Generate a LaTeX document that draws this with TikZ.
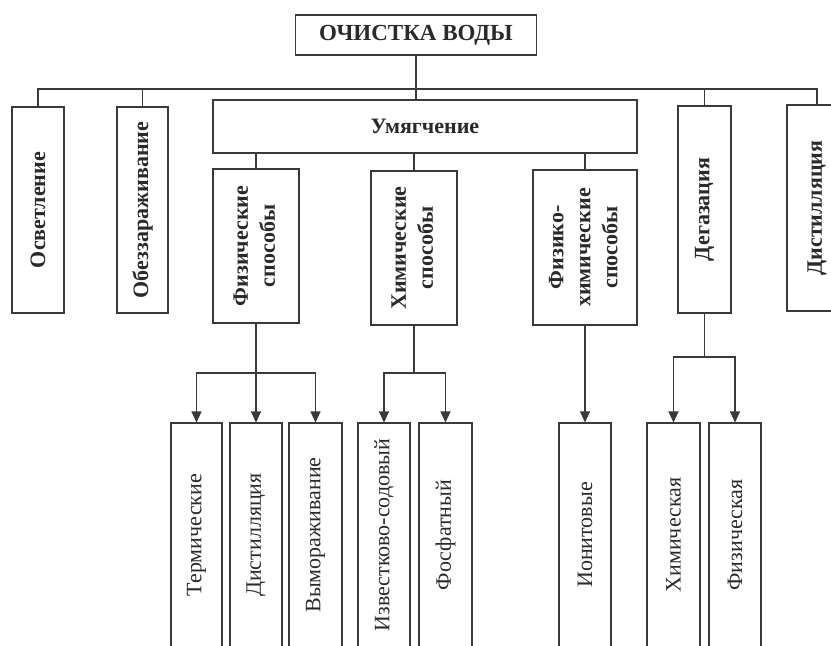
\documentclass[tikz,border=0pt]{standalone}
\usepackage{fontspec}
\setmainfont{Liberation Serif}
\usetikzlibrary{arrows.meta}
\definecolor{linec}{HTML}{3A3A3A}
\definecolor{textc}{HTML}{2A2A2A}
\tikzset{
  box/.style={draw=linec, line width=1.1pt, inner sep=0pt, text=textc, align=center},
  bbox/.style={box, font=\bfseries\fontsize{22}{27}\selectfont},
  rbox/.style={box, font=\fontsize{22}{27}\selectfont, minimum height=224pt},
  conn/.style={draw=linec, line width=1.1pt},
  arr/.style={conn, -{Triangle[width=10pt,length=11pt]}}
}
\begin{document}
\begin{tikzpicture}[x=1pt,y=-1pt]
\useasboundingbox (0,0) rectangle (831,646);
\clip (0,0) rectangle (831,646);
\fill[white] (0,0) rectangle (831,646);
% top
\node[bbox, font=\bfseries\fontsize{23}{27}\selectfont, minimum width=241pt, minimum height=40pt] (title) at (416,35) {ОЧИСТКА ВОДЫ};
\node[bbox, minimum width=52pt, minimum height=206pt] (osv) at (38,210) {\rotatebox{90}{Осветление}};
\node[bbox, minimum width=51pt, minimum height=206pt] (obez) at (142.5,210) {\rotatebox{90}{Обеззараживание}};
\node[bbox, minimum width=424pt, minimum height=53pt] (umyag) at (425,126.5) {Умягчение};
\node[bbox, minimum width=86pt, minimum height=154pt] (fiz) at (256,246) {\rotatebox{90}{\begin{tabular}{@{}c@{}}Физические\\способы\end{tabular}}};
\node[bbox, minimum width=86pt, minimum height=154pt] (him) at (414,248) {\rotatebox{90}{\begin{tabular}{@{}c@{}}Химические\\способы\end{tabular}}};
\node[bbox, minimum width=104pt, minimum height=155pt] (fizhim) at (585,247.5) {\rotatebox{90}{\begin{tabular}{@{}c@{}}Физико-\\химические\\способы\end{tabular}}};
\node[bbox, minimum width=53pt, minimum height=207pt] (degaz) at (704.5,209.5) {\rotatebox{90}{Дегазация}};
\node[bbox, minimum width=60pt, minimum height=206pt] (dist) at (817,208) {\rotatebox{90}{Дистилляция}};
% bottom
\node[rbox, minimum width=51pt] (term) at (196.5,535) {\rotatebox{90}{Термические}};
\node[rbox, minimum width=52pt] (distb) at (256,535) {\rotatebox{90}{Дистилляция}};
\node[rbox, minimum width=53pt] (vymor) at (315.5,535) {\rotatebox{90}{Вымораживание}};
\node[rbox, minimum width=52pt] (izv) at (384,535) {\rotatebox{90}{Известково-содовый}};
\node[rbox, minimum width=53pt] (fosf) at (445.5,535) {\rotatebox{90}{Фосфатный}};
\node[rbox, minimum width=52pt] (ionit) at (585,535) {\rotatebox{90}{Ионитовые}};
\node[rbox, minimum width=53pt] (himb) at (673.5,535) {\rotatebox{90}{Химическая}};
\node[rbox, minimum width=52pt] (fizb) at (735,535) {\rotatebox{90}{Физическая}};
% connectors top
\coordinate (bus) at (416,89);
\draw[conn] (title.south) -- (title.south |- umyag.north);
\draw[conn] (osv.north) |- (bus) -| (dist.north);
\draw[conn] (obez.north) -- (obez.north |- bus);
\draw[conn] (degaz.north) -- (degaz.north |- bus);
\draw[conn] (fiz.north) -- (fiz.north |- umyag.south);
\draw[conn] (him.north) -- (him.north |- umyag.south);
\draw[conn] (fizhim.north) -- (fizhim.north |- umyag.south);
% connectors bottom
\coordinate (fj) at (fiz.south |- 0,373);
\coordinate (hj) at (him.south |- 0,373);
\coordinate (dj) at (degaz.south |- 0,357);
\draw[conn] (fiz.south) -- (fj);
\draw[arr] (fj) -| (term.north);
\draw[arr] (fj) -- (distb.north);
\draw[arr] (fj) -| (vymor.north);
\draw[conn] (him.south) -- (hj);
\draw[arr] (hj) -| (izv.north);
\draw[arr] (hj) -| (fosf.north);
\draw[arr] (fizhim.south) -- (ionit.north);
\draw[conn] (degaz.south) -- (dj);
\draw[arr] (dj) -| (himb.north);
\draw[arr] (dj) -| (fizb.north);
\end{tikzpicture}
\end{document}
